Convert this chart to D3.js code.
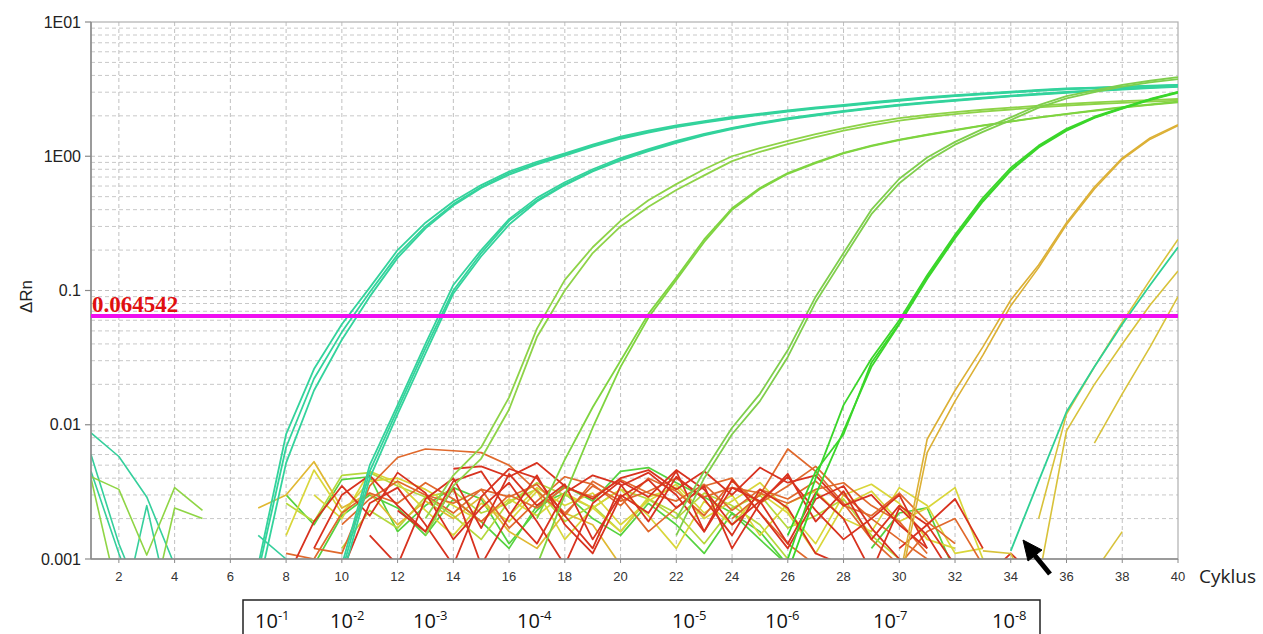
<!DOCTYPE html>
<meta charset="utf-8">
<style>
body { margin: 0; background: #fff; }
text { font-family: "Liberation Sans", Arial, sans-serif; }
</style>
<body>
<script src="https://d3js.org/d3.v7.min.js"></script>
<script>

const width = 1263
const height = 634

// axis values
const cycleTicks = d3.range(2, 41, 2)
const yTicks = [0.001, 0.01, 0.1, 1, 10]
const yTickLabels = ['0.001', '0.01', '0.1', '1E00', '1E01']
const threshold = 0.064542
const dilutions = ['-1', '-2', '-3', '-4', '-5', '-6', '-7', '-8']

// amplification curves, dRn per cycle starting at "from"
const dil1 = [
  {from: 7, v: [0.0009, 0.0085, 0.026, 0.056, 0.105, 0.2, 0.32, 0.46, 0.61, 0.77, 0.91, 1.05, 1.22, 1.4, 1.55, 1.7, 1.83, 1.96, 2.08, 2.2, 2.31, 2.41, 2.53, 2.64, 2.75, 2.85, 2.94, 3.03, 3.12, 3.2, 3.25, 3.3, 3.35, 3.4]},
  {from: 7, v: [0.0008, 0.0068, 0.022, 0.049, 0.097, 0.185, 0.3, 0.44, 0.59, 0.75, 0.89, 1.03, 1.2, 1.37, 1.52, 1.67, 1.8, 1.93, 2.05, 2.17, 2.28, 2.38, 2.5, 2.61, 2.72, 2.82, 2.91, 3.0, 3.09, 3.17, 3.23, 3.28, 3.33, 3.38]},
  {from: 7, v: [0.0006, 0.0052, 0.018, 0.043, 0.09, 0.175, 0.29, 0.43, 0.58, 0.73, 0.87, 1.01, 1.18, 1.35, 1.5, 1.65, 1.78, 1.91, 2.03, 2.15, 2.26, 2.36, 2.48, 2.59, 2.7, 2.8, 2.89, 2.98, 3.07, 3.15, 3.21, 3.27, 3.32, 3.37]}
]
const dil2 = [
  {from: 10, v: [0.0009, 0.005, 0.014, 0.04, 0.11, 0.2, 0.34, 0.49, 0.64, 0.8, 0.97, 1.13, 1.3, 1.47, 1.63, 1.78, 1.92, 2.05, 2.18, 2.3, 2.42, 2.53, 2.63, 2.73, 2.83, 2.92, 3.01, 3.1, 3.18, 3.26, 3.33]},
  {from: 10, v: [0.0008, 0.0045, 0.013, 0.037, 0.1, 0.19, 0.33, 0.47, 0.62, 0.78, 0.95, 1.11, 1.28, 1.45, 1.61, 1.76, 1.9, 2.03, 2.16, 2.28, 2.4, 2.51, 2.61, 2.71, 2.81, 2.9, 2.99, 3.08, 3.16, 3.24, 3.31]},
  {from: 10, v: [0.0007, 0.004, 0.012, 0.034, 0.095, 0.18, 0.31, 0.46, 0.61, 0.77, 0.93, 1.09, 1.26, 1.43, 1.59, 1.74, 1.88, 2.01, 2.14, 2.26, 2.38, 2.49, 2.59, 2.69, 2.79, 2.88, 2.97, 3.06, 3.14, 3.22, 3.29]}
]
const dil3 = [
  {from: 13, v: [0.002, 0.0042, 0.0068, 0.016, 0.052, 0.12, 0.21, 0.33, 0.47, 0.62, 0.8, 1.0, 1.15, 1.3, 1.46, 1.62, 1.78, 1.92, 2.03, 2.13, 2.22, 2.3, 2.38, 2.45, 2.52, 2.57, 2.62, 2.67]},
  {from: 13, v: [0.0015, 0.0035, 0.0056, 0.013, 0.045, 0.1, 0.19, 0.3, 0.42, 0.56, 0.72, 0.92, 1.08, 1.23, 1.39, 1.55, 1.7, 1.84, 1.96, 2.06, 2.15, 2.23, 2.31, 2.38, 2.45, 2.5, 2.55, 2.6]}
]
const dil4 = [
  {from: 17, v: [0.002, 0.0055, 0.0135, 0.03, 0.067, 0.125, 0.24, 0.41, 0.58, 0.75, 0.9, 1.06, 1.2, 1.33, 1.45, 1.57, 1.7, 1.82, 1.95, 2.07, 2.2, 2.32, 2.43, 2.55]},
  {from: 17, v: [0.0009, 0.003, 0.0095, 0.027, 0.063, 0.12, 0.23, 0.4, 0.57, 0.74, 0.89, 1.05, 1.19, 1.32, 1.44, 1.56, 1.69, 1.81, 1.94, 2.06, 2.18, 2.3, 2.41, 2.52]}
]
const dil5 = [
  {from: 22, v: [0.002, 0.0045, 0.0095, 0.017, 0.036, 0.09, 0.19, 0.4, 0.68, 0.98, 1.28, 1.6, 1.95, 2.4, 2.8, 3.1, 3.4, 3.65, 3.88]},
  {from: 22, v: [0.0015, 0.004, 0.0085, 0.015, 0.032, 0.082, 0.175, 0.37, 0.63, 0.92, 1.22, 1.52, 1.86, 2.3, 2.7, 3.0, 3.3, 3.55, 3.76]}
]
const dil6 = [
  {from: 26, v: [0.0015, 0.0045, 0.0085, 0.029, 0.057, 0.125, 0.25, 0.47, 0.79, 1.18, 1.57, 1.95, 2.28, 2.65, 3.0]},
  {from: 26, v: [0.001, 0.004, 0.014, 0.031, 0.06, 0.13, 0.26, 0.49, 0.82, 1.2, 1.6, 1.97, 2.3, 2.67, 3.02]},
  {from: 26, v: [0.0008, 0.003, 0.009, 0.027, 0.056, 0.122, 0.245, 0.46, 0.78, 1.16, 1.55, 1.93, 2.26, 2.63, 2.97]}
]
const dil7 = [
  {from: 30, v: [0.0007, 0.0078, 0.018, 0.038, 0.085, 0.155, 0.32, 0.59, 0.97, 1.37, 1.72]},
  {from: 30, v: [0.0006, 0.0062, 0.015, 0.033, 0.077, 0.148, 0.31, 0.57, 0.95, 1.34, 1.69]}
]
const dil8Teal = [
  {from: 34, v: [0.00115, 0.0038, 0.0125, 0.027, 0.056, 0.11, 0.21]}
]
const dil8Yellow = [
  {from: 35, v: [0.002, 0.012, 0.027, 0.058, 0.12, 0.24]},
  {from: 35, v: [0.0007, 0.009, 0.02, 0.04, 0.078, 0.14]},
  {from: 37, v: [0.0073, 0.017, 0.038, 0.09]},
  {from: 37, v: [0.0008, 0.0016]},
  {from: 33, v: [0.00115, 0.0011, 0.0004]}
]

// early-cycle background lines
const earlyTeal = [
  {from: 1, v: [0.0087, 0.0058, 0.0029, 0.0009]},
  {from: 1, v: [0.006, 0.0013, 0.0004]},
  {from: 1, v: [0.0045, 0.0011, 0.0003]},
  {from: 2, v: [0.0003, 0.0025, 0.0003]},
  {from: 7, v: [0.0015, 0.001, 0.0006]}
]
const earlyLime = [
  {from: 1, v: [0.0041, 0.0033, 0.00107, 0.0034, 0.0023]},
  {from: 3, v: [0.0003, 0.0024, 0.002]},
  {from: 1, v: [0.004, 0.0005]}
]

// baseline noise, dRn per cycle starting at "from"
const noiseRed = [
  {from: 9, v: [0.0012, 0.003, 0.0042, 0.0025, 0.0016, 0.0038, 0.0045, 0.0022, 0.0013, 0.0031, 0.0042, 0.0036, 0.0019, 0.0041, 0.0028, 0.0015, 0.0033, 0.0024, 0.0011, 0.0009]},
  {from: 10, v: [0.0008, 0.0026, 0.0034, 0.0018, 0.0009, 0.0029, 0.0047, 0.004, 0.0021, 0.0012, 0.0035, 0.0044, 0.003, 0.0016, 0.0039, 0.0022, 0.0012, 0.0028, 0.0035, 0.0017, 0.001, 0.0008]},
  {from: 8, v: [0.0007, 0.0019, 0.0035, 0.0021, 0.0044, 0.0031, 0.0014, 0.0024, 0.0037, 0.0019, 0.0009, 0.0026, 0.0038, 0.0029, 0.0046, 0.0033, 0.0018, 0.0027, 0.0041, 0.0023, 0.0014, 0.002, 0.003, 0.0012]},
  {from: 11, v: [0.0015, 0.0009, 0.0028, 0.004, 0.0017, 0.0043, 0.0025, 0.0036, 0.0014, 0.003, 0.0022, 0.0045, 0.0016, 0.0034, 0.0027, 0.0013, 0.0031, 0.002, 0.0008, 0.0024, 0.0015, 0.0007]},
  {from: 12, v: [0.0023, 0.0016, 0.0034, 0.0009, 0.0021, 0.0042, 0.0018, 0.0011, 0.0029, 0.0039, 0.0024, 0.0035, 0.0012, 0.0026, 0.0043, 0.0019, 0.0032, 0.0014, 0.0025, 0.0018, 0.0028, 0.0012]},
  {from: 14, v: [0.0047, 0.0049, 0.0041, 0.0052, 0.0035, 0.0028, 0.004, 0.0046, 0.0033, 0.0045, 0.003, 0.0048, 0.0037, 0.0042, 0.0025, 0.003, 0.0018, 0.0012]},
  {from: 30, v: [0.0012, 0.0018, 0.0009, 0.0007, 0.0011, 0.0007]}
]
const noiseOrange = [
  {from: 9, v: [0.0012, 0.0011, 0.0035, 0.0057, 0.0066, 0.0064, 0.0062, 0.005, 0.0032, 0.0021, 0.0038, 0.0029, 0.0016, 0.0024, 0.0035, 0.004, 0.0022, 0.0013, 0.0009]},
  {from: 10, v: [0.0018, 0.0028, 0.0038, 0.003, 0.0022, 0.0033, 0.0017, 0.0027, 0.0041, 0.0036, 0.0025, 0.004, 0.0032, 0.0021, 0.0038, 0.0026, 0.0035, 0.0049, 0.003, 0.002, 0.0014, 0.001, 0.0008]},
  {from: 8, v: [0.0011, 0.001, 0.0022, 0.0031, 0.0026, 0.0037, 0.0028, 0.0019, 0.003, 0.0024, 0.0034, 0.0029, 0.0039, 0.0031, 0.0027, 0.0036, 0.0023, 0.0033, 0.0028, 0.0038, 0.0025, 0.0021, 0.0031, 0.0019, 0.0013]},
  {from: 13, v: [0.003, 0.0026, 0.0033, 0.0029, 0.0036, 0.0022, 0.0035, 0.0027, 0.0032, 0.004, 0.0029, 0.0034, 0.0031, 0.0026, 0.0033, 0.0037, 0.0025, 0.0019, 0.0011]},
  {from: 24, v: [0.002, 0.003, 0.0066, 0.0045, 0.0026, 0.0014, 0.0009, 0.0016, 0.002, 0.0009]}
]
const noiseYellow = [
  {from: 8, v: [0.0015, 0.0046, 0.0022, 0.0038, 0.004, 0.0033, 0.0025, 0.0019, 0.0028, 0.0021, 0.0031, 0.0024, 0.0016, 0.0029, 0.0034, 0.002, 0.0027, 0.0037, 0.0023, 0.0013, 0.003, 0.0036, 0.0026, 0.0014, 0.0012]},
  {from: 9, v: [0.003, 0.002, 0.0045, 0.0037, 0.0023, 0.0015, 0.0026, 0.0019, 0.0032, 0.0014, 0.0024, 0.0033, 0.0021, 0.0012, 0.0027, 0.0018, 0.0031, 0.0022, 0.0011, 0.0025, 0.0032, 0.0019, 0.0024, 0.0034, 0.001]},
  {from: 16, v: [0.0021, 0.0034, 0.0025, 0.0031, 0.0018, 0.0027, 0.0036, 0.0022, 0.003, 0.0015, 0.0026, 0.0032, 0.002, 0.0016, 0.0034, 0.0025, 0.0011, 0.0012]}
]
const noiseAmber = [
  {from: 7, v: [0.0024, 0.003, 0.0053, 0.0024, 0.0031, 0.0018, 0.0027, 0.002, 0.0029, 0.0016, 0.0012, 0.0022, 0.0018, 0.0009]}
]
const noiseLime = [
  {from: 8, v: [0.0026, 0.0019, 0.0042, 0.0044, 0.0035, 0.0029, 0.0032, 0.0022, 0.0026, 0.0037, 0.003, 0.0024, 0.0033, 0.0028, 0.002, 0.0031, 0.0025, 0.0018, 0.001, 0.0008]},
  {from: 10, v: [0.0012, 0.0023, 0.0017, 0.0029, 0.0021, 0.0014, 0.0027, 0.0033, 0.0019, 0.0025, 0.0016, 0.0028, 0.0022, 0.0013, 0.0024, 0.003, 0.0017, 0.0021, 0.0028, 0.0015, 0.001]}
]
const noiseGreen = [
  {from: 8, v: [0.003, 0.0018, 0.0039, 0.0041, 0.0016, 0.0025, 0.0034, 0.0028, 0.0013, 0.0023, 0.0035, 0.0027, 0.0045, 0.0048, 0.0037, 0.0029, 0.0022, 0.0014, 0.0009]},
  {from: 9, v: [0.0009, 0.0021, 0.003, 0.0024, 0.0015, 0.0028, 0.0019, 0.0012, 0.0025, 0.0031, 0.002, 0.0015, 0.0026, 0.0018, 0.0011, 0.0022, 0.0016, 0.0009]},
  {from: 29, v: [0.0012, 0.0022, 0.0024, 0.0008]}
]

// drawing layers: data, colour, stroke width
const layers = [
  {data: earlyTeal, color: '#35cf9c', w: 1.6},
  {data: earlyLime, color: '#8fd545', w: 1.6},
  {data: noiseGreen, color: '#55d23e', w: 1.7},
  {data: noiseLime, color: '#b4d83c', w: 1.7},
  {data: noiseYellow, color: '#d9d63a', w: 1.7},
  {data: noiseAmber, color: '#e0b832', w: 1.7},
  {data: noiseOrange, color: '#e0692c', w: 1.7},
  {data: noiseRed, color: '#d8321f', w: 1.8},
  {data: dil1, color: '#33d39c', w: 1.8},
  {data: dil2, color: '#33d39c', w: 1.8},
  {data: dil3, color: '#8ed348', w: 1.8},
  {data: dil4, color: '#7fd440', w: 1.8},
  {data: dil5, color: '#7fce4c', w: 1.8},
  {data: dil6, color: '#3ad62a', w: 1.8},
  {data: dil7, color: '#dcb035', w: 1.6},
  {data: dil8Yellow, color: '#d8c23a', w: 1.6},
  {data: dil8Teal, color: '#2fd094', w: 1.8}
]

const x = d3.scaleLinear().domain([1, 40]).range([91, 1178])
const y = d3.scaleLog().domain([0.001, 10]).range([559, 22])

const svg = d3.select('body').append('svg')
  .attr('width', width)
  .attr('height', height)

// grid
const grid = svg.append('g')
const minor = []
;[0.001, 0.01, 0.1, 1].forEach(d => d3.range(2, 10).forEach(k => minor.push(d * k)))
grid.selectAll('.hminor').data(minor).enter().append('line')
  .attr('x1', x(1)).attr('x2', x(40))
  .attr('y1', d => y(d)).attr('y2', d => y(d))
  .attr('stroke', '#c8c8c8').attr('stroke-dasharray', '4,3').attr('stroke-width', 1)
grid.selectAll('.hmajor').data(yTicks.slice(1, 4)).enter().append('line')
  .attr('x1', x(1)).attr('x2', x(40))
  .attr('y1', d => y(d)).attr('y2', d => y(d))
  .attr('stroke', '#c0c0c0').attr('stroke-dasharray', '4,3').attr('stroke-width', 1)
grid.selectAll('.v').data(cycleTicks.slice(0, -1)).enter().append('line')
  .attr('x1', d => x(d)).attr('x2', d => x(d))
  .attr('y1', y(10)).attr('y2', y(0.001))
  .attr('stroke', '#c0c0c0').attr('stroke-dasharray', '4,3').attr('stroke-width', 1)

// plot frame
svg.append('rect')
  .attr('x', x(1)).attr('y', y(10))
  .attr('width', x(40) - x(1)).attr('height', y(0.001) - y(10))
  .attr('fill', 'none').attr('stroke', '#b0b0b0').attr('stroke-width', 1.2)

// curves
svg.append('clipPath').attr('id', 'plot')
  .append('rect')
  .attr('x', x(1)).attr('y', y(10))
  .attr('width', x(40) - x(1)).attr('height', y(0.001) - y(10))

const line = d3.line().x(d => x(d[0])).y(d => y(d[1]))
const curves = svg.append('g').attr('clip-path', 'url(#plot)')
layers.forEach(layer => {
  curves.append('g').selectAll('path')
    .data(layer.data)
    .enter()
    .append('path')
    .attr('d', s => line(s.v.map((v, i) => [s.from + i, v])))
    .attr('fill', 'none')
    .attr('stroke', layer.color)
    .attr('stroke-width', layer.w)
    .attr('stroke-linejoin', 'round')
})

// axes lines
svg.append('line')
  .attr('x1', x(1)).attr('x2', x(1)).attr('y1', y(10)).attr('y2', y(0.001))
  .attr('stroke', '#8a8a8a').attr('stroke-width', 1.5)
svg.append('line')
  .attr('x1', x(1)).attr('x2', x(40)).attr('y1', y(0.001)).attr('y2', y(0.001))
  .attr('stroke', '#8a8a8a').attr('stroke-width', 1.5)

// threshold
svg.append('line')
  .attr('x1', x(1)).attr('x2', x(40))
  .attr('y1', y(threshold)).attr('y2', y(threshold))
  .attr('stroke', '#f00ff0').attr('stroke-width', 4)
svg.append('text')
  .attr('x', x(1) + 1).attr('y', y(threshold) - 4)
  .attr('fill', '#e01010')
  .attr('font-size', 23)
  .attr('font-weight', 'bold')
  .style('font-family', '"Liberation Serif", "Times New Roman", serif')
  .text(threshold)

// y ticks
svg.selectAll('.ytick').data(yTicks).enter().append('line')
  .attr('x1', x(1) - 6).attr('x2', x(1))
  .attr('y1', d => y(d)).attr('y2', d => y(d))
  .attr('stroke', '#8a8a8a').attr('stroke-width', 1.2)
svg.selectAll('.ylab').data(yTicks).enter().append('text')
  .attr('x', x(1) - 10).attr('y', d => y(d))
  .attr('dy', '0.35em')
  .attr('text-anchor', 'end')
  .attr('font-size', 16)
  .attr('fill', '#222')
  .text((d, i) => yTickLabels[i])

// x ticks
svg.selectAll('.xtick').data(cycleTicks).enter().append('line')
  .attr('x1', d => x(d)).attr('x2', d => x(d))
  .attr('y1', y(0.001)).attr('y2', y(0.001) + 4)
  .attr('stroke', '#8a8a8a')
svg.selectAll('.xlab').data(cycleTicks).enter().append('text')
  .attr('x', d => x(d)).attr('y', 581)
  .attr('text-anchor', 'middle')
  .attr('font-size', 13)
  .attr('fill', '#333')
  .text(d => d)

// axis titles
svg.append('text')
  .attr('x', 1199).attr('y', 583)
  .attr('font-size', 19)
  .attr('fill', '#222')
  .style('font-family', '"Open Sans", sans-serif')
  .text('Cyklus')
svg.append('text')
  .attr('transform', 'translate(32,' + (y(0.1) + 6) + ') rotate(-90)')
  .attr('text-anchor', 'middle')
  .attr('font-size', 17)
  .attr('fill', '#222')
  .text('ΔRn')

// arrow pointing at the late teal curve
const arrow = svg.append('g').attr('fill', '#000').attr('stroke', '#000')
arrow.append('line')
  .attr('x1', 1050).attr('y1', 574).attr('x2', 1032).attr('y2', 552)
  .attr('stroke-width', 5)
arrow.append('path')
  .attr('d', 'M1023,540 L1042,550 L1028,561 Z')
  .attr('stroke-width', 1)

// dilution legend box
svg.append('rect')
  .attr('x', 243).attr('y', 600).attr('width', 797).attr('height', 40)
  .attr('fill', 'none').attr('stroke', '#222').attr('stroke-width', 1.5)
const legendX = [255, 330, 413, 517, 672, 765, 873, 992]
const lt = svg.selectAll('.dil').data(dilutions).enter().append('text')
  .attr('x', (d, i) => legendX[i]).attr('y', 628)
  .attr('font-size', 20)
  .attr('fill', '#111')
  .style('font-family', '"Open Sans", sans-serif')
lt.append('tspan').text('10')
lt.append('tspan').attr('dy', -8).attr('font-size', 13).text(d => d)

</script>
</body>
